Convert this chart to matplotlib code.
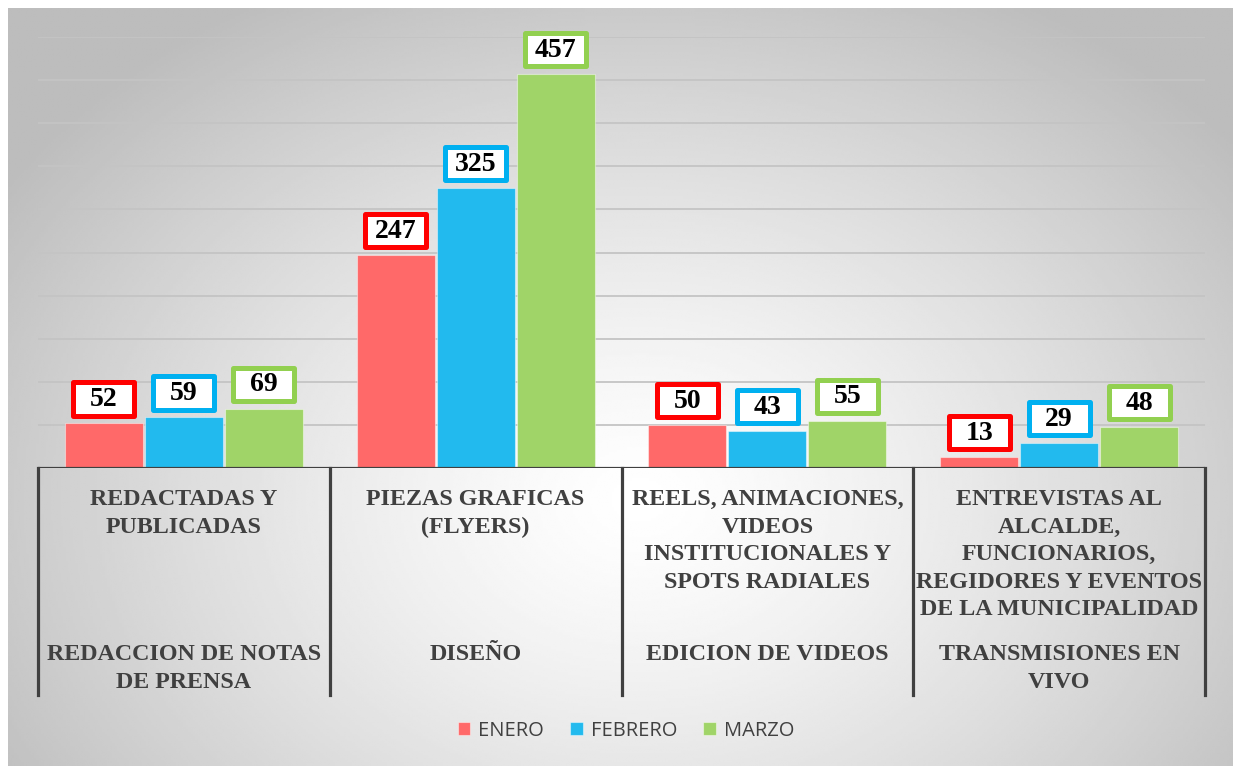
import matplotlib.pyplot as plt
import numpy as np
from matplotlib.patches import Rectangle
from matplotlib.offsetbox import DrawingArea, AnnotationBbox
from matplotlib.text import Text

# datos del grafico
grupos = ["REDACCION DE NOTAS\nDE PRENSA", "DISEÑO", "EDICION DE VIDEOS",
          "TRANSMISIONES EN\nVIVO"]
subcats = ["REDACTADAS Y\nPUBLICADAS", "PIEZAS GRAFICAS\n(FLYERS)",
           "REELS, ANIMACIONES,\nVIDEOS\nINSTITUCIONALES Y\nSPOTS RADIALES",
           "ENTREVISTAS AL\nALCALDE,\nFUNCIONARIOS,\nREGIDORES Y EVENTOS\nDE LA MUNICIPALIDAD"]
meses = ["ENERO", "FEBRERO", "MARZO"]
enero = [52, 247, 50, 13]
febrero = [59, 325, 43, 29]
marzo = [69, 457, 55, 48]

colores = ["#FF6969", "#22BAEE", "#A0D468"]
bordes = ["#FF0000", "#00B0F0", "#92D050"]
gris = "#404040"
serif = "Liberation Serif"

W, H = 1233, 766
fig = plt.figure(figsize=(W / 100, H / 100), dpi=100)

# fondo con degradado radial
bg = fig.add_axes([8 / W, 0, 1 - 8 / W, 1 - 8 / H])
xx, yy = np.meshgrid(np.linspace(8, W, 500), np.linspace(8, H, 320))
r = np.sqrt(((xx - 640) / 760) ** 2 + ((yy - 500) / 580) ** 2)
val = 1 - 0.26 * np.clip(r, 0, 1) ** 1.3
bg.imshow(val, cmap="gray", vmin=0, vmax=1, aspect="auto", interpolation="bilinear")
bg.axis("off")
bg.set_zorder(-10)

ax = fig.add_axes([38 / W, (H - 468) / H, (1205 - 38) / W, (468 - 37) / H])
ax.set_xlim(0, 4)
ax.set_ylim(0, 500)
ax.patch.set_visible(False)
for s in ax.spines.values():
    s.set_visible(False)
ax.set_xticks([])
ax.set_yticks([])

for g in range(50, 501, 50):
    ax.axhline(g, color="#c4c4c4", lw=1.3, zorder=0)

x = np.arange(len(grupos)) + 0.5
ancho = 78 / 292
desp = [-80 / 292, 0, 80 / 292]
series = [enero, febrero, marzo]

barras = []
for k, vals in enumerate(series):
    b = ax.bar(x + desp[k], vals, width=ancho, color=colores[k],
               edgecolor=(1, 1, 1, 0.45), lw=0.8, zorder=2, label=meses[k])
    barras.append(b)
    for xi, v in zip(x + desp[k], vals):
        da = DrawingArea(44, 24, 0, 0)
        da.add_artist(Rectangle((0, 0), 44, 24, fc="white", ec=bordes[k], lw=3.6,
                                joinstyle="round"))
        da.add_artist(Text(22, 11.5, str(v), ha="center", va="center", fontsize=20,
                           fontweight="bold", family=serif, color="black"))
        ab = AnnotationBbox(da, (xi, v), xybox=(0, 5.5), xycoords="data",
                            boxcoords="offset points", box_alignment=(0.5, 0),
                            frameon=False, pad=0, annotation_clip=False)
        ax.add_artist(ab)

ax.axhline(0, color=gris, lw=2.3, zorder=3)

# eje de categorias de dos niveles
tr = ax.get_xaxis_transform()
for i in range(5):
    ax.plot([i, i], [0, (468 - 695) / 431], transform=tr, color=gris, lw=2.3,
            clip_on=False, zorder=3)
for i in range(4):
    ax.text(i + 0.5, (468 - 489) / 431, subcats[i], transform=tr, ha="center",
            va="top", fontsize=17.3, fontweight="bold", family=serif, color=gris,
            linespacing=1.41)
    ax.text(i + 0.5, (468 - 644) / 431, grupos[i], transform=tr, ha="center",
            va="top", fontsize=17.3, fontweight="bold", family=serif, color=gris,
            linespacing=1.41)

leg = fig.legend(handles=barras, labels=meses, loc="center",
                 bbox_to_anchor=(626 / W, 1 - 731 / H), ncol=3, frameon=False,
                 prop={"family": "Open Sans", "size": 14.5}, handlelength=0.62,
                 handleheight=0.62, handletextpad=0.4, columnspacing=1.3)
for t in leg.get_texts():
    t.set_color(gris)

fig.savefig("out.png", dpi=100)
